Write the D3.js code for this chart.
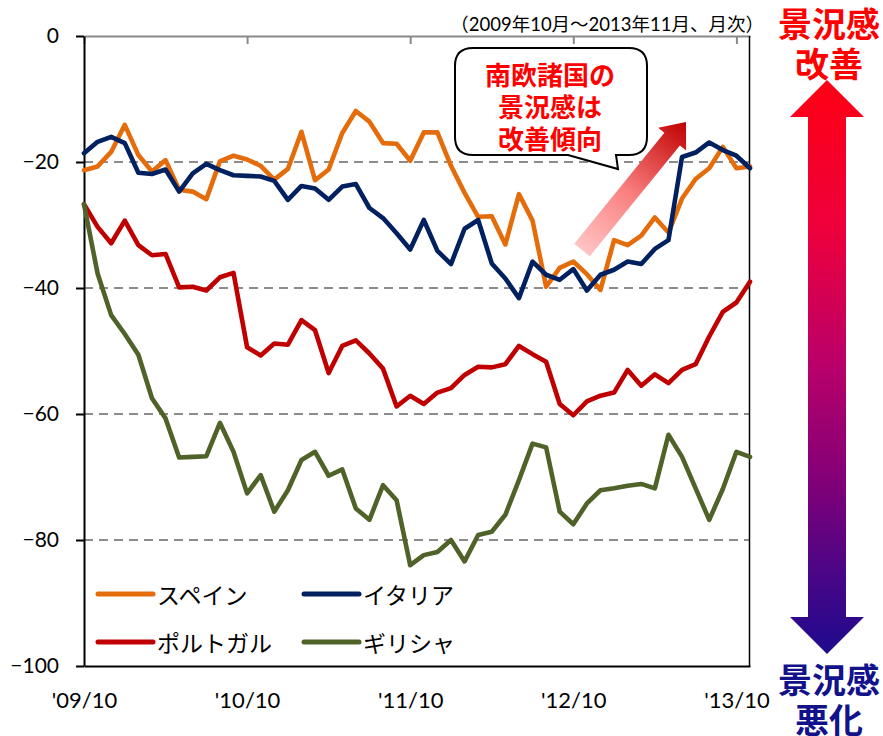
<!DOCTYPE html>
<html>
<head>
<meta charset="utf-8">
<script src="https://cdn.jsdelivr.net/npm/d3@7"></script>
<style>
  body { margin: 0; background: #fff; }
  svg { display: block; font-family: Lato, "Noto Sans CJK JP", sans-serif; }
</style>
</head>
<body>
<svg></svg>
<script>
// monthly, 2009/10 - 2013/11
const months = [
  "2009/10", "2009/11", "2009/12",
  "2010/01", "2010/02", "2010/03", "2010/04", "2010/05", "2010/06", "2010/07", "2010/08", "2010/09", "2010/10", "2010/11", "2010/12",
  "2011/01", "2011/02", "2011/03", "2011/04", "2011/05", "2011/06", "2011/07", "2011/08", "2011/09", "2011/10", "2011/11", "2011/12",
  "2012/01", "2012/02", "2012/03", "2012/04", "2012/05", "2012/06", "2012/07", "2012/08", "2012/09", "2012/10", "2012/11", "2012/12",
  "2013/01", "2013/02", "2013/03", "2013/04", "2013/05", "2013/06", "2013/07", "2013/08", "2013/09", "2013/10", "2013/11"
];
const tickMonths = ["2009/10", "2010/10", "2011/10", "2012/10", "2013/10"];
const tickLabels = ["'09/10", "'10/10", "'11/10", "'12/10", "'13/10"];
const yTicks = [0, -20, -40, -60, -80, -100];
const gridTicks = [-20, -40, -60, -80];

const spain = [-21.3, -20.7, -18.4, -14.1, -18.9, -21.5, -19.7, -24.4, -24.7, -25.9,
  -19.9, -19.0, -19.6, -20.6, -22.8, -21.1, -15.2, -22.9, -21.2, -15.4,
  -11.9, -13.6, -17.0, -17.1, -19.8, -15.3, -15.3, -20.6, -24.9, -28.7,
  -28.6, -33.1, -25.1, -29.3, -39.8, -36.8, -35.8, -37.8, -40.3, -32.4,
  -33.2, -31.7, -28.8, -31.2, -25.8, -22.7, -21.0, -17.6, -21.0, -20.7];
const italy = [-18.6, -16.8, -16.0, -17.0, -21.7, -21.9, -21.2, -24.7, -21.8, -20.3,
  -21.3, -22.1, -22.2, -22.3, -23.0, -26.0, -23.8, -24.2, -26.0, -23.9,
  -23.5, -27.3, -28.9, -31.3, -33.9, -29.2, -34.1, -36.2, -30.6, -29.2,
  -36.1, -38.5, -41.6, -35.8, -37.9, -38.7, -37.0, -40.4, -37.9, -37.1,
  -35.8, -36.2, -33.8, -32.4, -19.2, -18.5, -16.9, -18.1, -19.0, -21.0];
const portugal = [-26.7, -30.3, -32.9, -29.3, -33.2, -34.8, -34.6, -39.9, -39.8, -40.4,
  -38.3, -37.6, -49.4, -50.7, -48.8, -49.0, -45.1, -46.7, -53.5, -49.2,
  -48.3, -50.4, -52.8, -58.8, -57.1, -58.4, -56.6, -55.9, -53.8, -52.5,
  -52.6, -52.1, -49.2, -50.5, -51.7, -58.4, -60.2, -58.0, -57.1, -56.6,
  -53.0, -55.5, -53.7, -55.1, -53.0, -52.1, -47.7, -43.8, -42.3, -39.0];
const greece = [-26.7, -37.7, -44.3, -47.3, -50.6, -57.5, -60.7, -66.9, -66.8, -66.7,
  -61.4, -66.0, -72.6, -69.7, -75.5, -72.1, -67.3, -66.0, -69.8, -68.8,
  -75.0, -76.8, -71.3, -73.7, -84.0, -82.4, -81.9, -80.0, -83.4, -79.2,
  -78.7, -76.0, -70.5, -64.7, -65.3, -75.5, -77.5, -74.2, -72.1, -71.8,
  -71.4, -71.1, -71.8, -63.3, -66.8, -71.8, -76.8, -71.9, -66.0, -66.8];

const seriesNames = ["スペイン", "イタリア", "ポルトガル", "ギリシャ"];
const seriesValues = [spain, italy, portugal, greece];
const seriesColors = ["#E46C0A", "#002060", "#C00000", "#4F6228"];

const svgWidth = 883, svgHeight = 736;
const plot = { left: 84, right: 750, top: 36, bottom: 666 };

const svg = d3.select("svg")
  .attr("width", svgWidth)
  .attr("height", svgHeight);

const x = d3.scalePoint().domain(months).range([plot.left, plot.right]);
const y = d3.scaleLinear().domain([-100, 0]).range([plot.bottom, plot.top]);

// dashed grid
svg.append("g")
  .selectAll("line")
  .data(gridTicks)
  .join("line")
  .attr("x1", plot.left).attr("x2", plot.right)
  .attr("y1", d => y(d)).attr("y2", d => y(d))
  .attr("stroke", "#8c8c8c")
  .attr("stroke-width", 1.8)
  .attr("stroke-dasharray", "9,6");

// category axis sits at 0 (top), ticks pointing down
const topAxis = svg.append("g")
  .attr("transform", "translate(0," + y(0) + ")")
  .call(d3.axisBottom(x).tickValues(tickMonths).tickSize(8).tickSizeOuter(0).tickFormat(""));
topAxis.selectAll("path, line").attr("stroke", "#898989").attr("stroke-width", 2);

// bottom labels + frame line
const bottomAxis = svg.append("g")
  .attr("transform", "translate(0," + plot.bottom + ")")
  .call(d3.axisBottom(x).tickValues(tickMonths).tickSize(0).tickSizeOuter(0).tickPadding(26)
    .tickFormat((d, i) => tickLabels[i]));
bottomAxis.select(".domain").attr("stroke", "#000").attr("stroke-width", 2);
bottomAxis.selectAll("text").attr("font-size", 22).attr("fill", "#000").attr("font-family", "Lato");

// right frame
svg.append("line")
  .attr("x1", plot.right - 0.5).attr("x2", plot.right - 0.5)
  .attr("y1", plot.top).attr("y2", plot.bottom)
  .attr("stroke", "#000").attr("stroke-width", 1.5);

// value axis
const leftAxis = svg.append("g")
  .attr("transform", "translate(" + plot.left + ",0)")
  .call(d3.axisLeft(y).tickValues(yTicks).tickSize(8).tickSizeOuter(0).tickPadding(17));
leftAxis.selectAll("path, line").attr("stroke", "#000").attr("stroke-width", 2);
leftAxis.selectAll("text").attr("font-size", 21).attr("fill", "#000").attr("font-family", "Lato");

// series lines
const line = d3.line()
  .x((d, i) => x(months[i]))
  .y(d => y(d));

svg.append("g")
  .selectAll("path")
  .data(seriesValues)
  .join("path")
  .attr("fill", "none")
  .attr("stroke", (d, i) => seriesColors[i])
  .attr("stroke-width", 4.6)
  .attr("stroke-linejoin", "round")
  .attr("stroke-linecap", "round")
  .attr("d", line);

// legend (2 columns)
const legendPos = [[98, 594], [304, 594], [98, 642], [304, 642]];
const legend = svg.append("g")
  .selectAll("g")
  .data(seriesNames)
  .join("g")
  .attr("transform", (d, i) => "translate(" + legendPos[i][0] + "," + legendPos[i][1] + ")");
legend.append("line")
  .attr("x1", 0).attr("x2", 55)
  .attr("stroke", (d, i) => seriesColors[i])
  .attr("stroke-width", 5)
  .attr("stroke-linecap", "round");
legend.append("text")
  .attr("x", 59)
  .attr("dominant-baseline", "central")
  .attr("font-family", "Noto Sans CJK JP")
  .attr("font-size", 23)
  .attr("fill", "#000")
  .text(d => d);

// period note
svg.append("text")
  .attr("x", 764).attr("y", 24)
  .attr("text-anchor", "end")
  .attr("dominant-baseline", "central")
  .attr("font-size", 18.5)
  .attr("fill", "#000")
  .text("（2009年10月～2013年11月、月次）");

// callout
svg.append("path")
  .attr("d", "M473,48 H629 Q647,48 647,66 V137 Q647,155 629,155 H616 L618,169 L568,155 H473 Q455,155 455,137 V66 Q455,48 473,48 Z")
  .attr("fill", "#fff")
  .attr("stroke", "#000")
  .attr("stroke-width", 2);
svg.append("g")
  .selectAll("text")
  .data(["南欧諸国の", "景況感は", "改善傾向"])
  .join("text")
  .attr("x", 550)
  .attr("y", (d, i) => 73 + i * 32)
  .attr("text-anchor", "middle")
  .attr("dominant-baseline", "central")
  .attr("font-family", "Noto Sans CJK JP")
  .attr("font-weight", 700)
  .attr("font-size", 26)
  .attr("fill", "#FF0000")
  .text(d => d);

const defs = svg.append("defs");

// diagonal gradient arrow
const tail = [582, 250], tip = [686, 122];
const len = Math.hypot(tip[0] - tail[0], tip[1] - tail[1]);
const ux = (tip[0] - tail[0]) / len, uy = (tip[1] - tail[1]) / len;
const nx = -uy, ny = ux;
const sw = 10, hw = 18, hl = 22;
const bx = tip[0] - ux * hl, by = tip[1] - uy * hl;
const arrowPts = [
  [tail[0] + nx * sw, tail[1] + ny * sw],
  [bx + nx * sw, by + ny * sw],
  [bx + nx * hw, by + ny * hw],
  tip,
  [bx - nx * hw, by - ny * hw],
  [bx - nx * sw, by - ny * sw],
  [tail[0] - nx * sw, tail[1] - ny * sw]
];
const diag = defs.append("linearGradient")
  .attr("id", "diag")
  .attr("gradientUnits", "userSpaceOnUse")
  .attr("x1", tail[0]).attr("y1", tail[1])
  .attr("x2", tip[0]).attr("y2", tip[1]);
diag.append("stop").attr("offset", 0).attr("stop-color", "#FFC4C4");
diag.append("stop").attr("offset", 0.45).attr("stop-color", "#FA7F7F");
diag.append("stop").attr("offset", 1).attr("stop-color", "#C00000");
svg.append("path")
  .attr("d", "M" + arrowPts.join("L") + "Z")
  .attr("fill", "url(#diag)");

// right side: double arrow
const vg = defs.append("linearGradient")
  .attr("id", "vert")
  .attr("gradientUnits", "userSpaceOnUse")
  .attr("x1", 0).attr("y1", 80).attr("x2", 0).attr("y2", 654);
[[0, "#FF0014"], [0.26, "#EE003C"], [0.5, "#B8006A"], [0.7, "#820078"], [0.86, "#4A0586"], [1, "#1E0A8E"]]
  .forEach(s => vg.append("stop").attr("offset", s[0]).attr("stop-color", s[1]));

const cx = 827, shaft = 19, head = 37;
svg.append("path")
  .attr("d", "M" + cx + ",80 L" + (cx + head) + ",117 L" + (cx + shaft) + ",117 L" + (cx + shaft) + ",617 L" +
    (cx + head) + ",617 L" + cx + ",654 L" + (cx - head) + ",617 L" + (cx - shaft) + ",617 L" +
    (cx - shaft) + ",117 L" + (cx - head) + ",117 Z")
  .attr("fill", "url(#vert)");

const sideLabels = [
  { t: "景況感", y: 22, c: "#FF0000" },
  { t: "改善", y: 62, c: "#FF0000" },
  { t: "景況感", y: 678, c: "#12128A" },
  { t: "悪化", y: 718, c: "#12128A" }
];
svg.append("g")
  .selectAll("text")
  .data(sideLabels)
  .join("text")
  .attr("x", 829)
  .attr("y", d => d.y)
  .attr("text-anchor", "middle")
  .attr("dominant-baseline", "central")
  .attr("font-family", "Noto Sans CJK JP")
  .attr("font-weight", 700)
  .attr("font-size", 34)
  .attr("fill", d => d.c)
  .text(d => d.t);
</script>
</body>
</html>
